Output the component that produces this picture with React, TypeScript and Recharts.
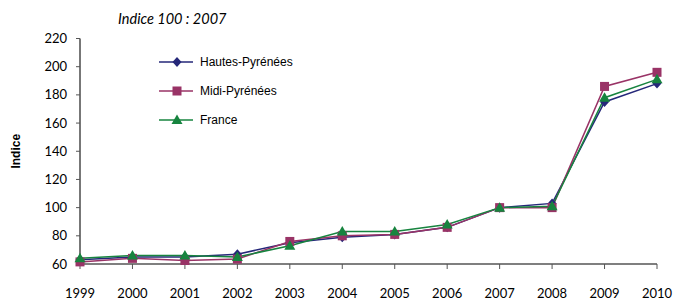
import { LineChart, Line, XAxis, YAxis } from 'recharts'

const years = [1999, 2000, 2001, 2002, 2003, 2004, 2005, 2006, 2007, 2008, 2009, 2010]
const hautesPyrenees = [63, 65, 65, 67, 75, 79, 81, 86, 100, 103, 175, 188]
const midiPyrenees = [61.5, 64, 62.5, 63.5, 76, 80, 81, 86, 100, 100, 186, 196]
const france = [64, 66, 66, 65, 73, 83, 83, 88, 100, 101, 178, 191]
const yTicks = [60, 80, 100, 120, 140, 160, 180, 200, 220]

const data = years.map((year, i) => ({
  year,
  hautes: hautesPyrenees[i],
  midi: midiPyrenees[i],
  france: france[i],
}))

const NAVY = '#252779'
const PLUM = '#993366'
const GREEN = '#17843f'

type Shape = 'diamond' | 'square' | 'triangle'

function marker(shape: Shape, cx: number, cy: number, color: string, key?: string) {
  if (shape === 'diamond') {
    return <path key={key} d={`M${cx},${cy - 5}L${cx + 4.5},${cy}L${cx},${cy + 5}L${cx - 4.5},${cy}Z`} fill={color} />
  }
  if (shape === 'square') {
    return <rect key={key} x={cx - 4.5} y={cy - 4.5} width={9} height={9} fill={color} />
  }
  return <path key={key} d={`M${cx},${cy - 5.5}L${cx + 5.5},${cy + 4}L${cx - 5.5},${cy + 4}Z`} fill={color} />
}

const series = [
  { key: 'hautes', name: 'Hautes-Pyrénées', color: NAVY, shape: 'diamond' as Shape },
  { key: 'midi', name: 'Midi-Pyrénées', color: PLUM, shape: 'square' as Shape },
  { key: 'france', name: 'France', color: GREEN, shape: 'triangle' as Shape },
]

// legend drawn as an overlay so it doesn't eat into the plot area
function LegendBox() {
  return (
    <div
      style={{
        position: 'absolute',
        left: 159,
        top: 47,
        fontFamily: 'Liberation Sans, Arial, sans-serif',
        fontSize: 12,
        color: '#000',
      }}
    >
      {series.map((s) => (
        <div key={s.key} style={{ display: 'flex', alignItems: 'center', height: 29 }}>
          <svg width={36} height={12}>
            <line x1={0} y1={6} x2={34} y2={6} stroke={s.color} strokeWidth={1.5} />
            {marker(s.shape, 18, 6, s.color)}
          </svg>
          <span style={{ marginLeft: 5 }}>{s.name}</span>
        </div>
      ))}
    </div>
  )
}

export default function App() {
  return (
    <div style={{ position: 'absolute', left: 0, top: 0, width: 676, height: 300, background: '#fff' }}>
      <LineChart width={676} height={300} data={data} margin={{ top: 38.5, right: 19, bottom: 0, left: 0 }}>
        <XAxis
          dataKey="year"
          type="number"
          domain={[1999, 2010]}
          ticks={years}
          interval={0}
          height={36}
          tickSize={5}
          tickMargin={20}
          axisLine={{ stroke: '#555', strokeWidth: 1.5 }}
          tickLine={{ stroke: '#555' }}
          tick={{ fill: '#000', fontFamily: 'Lato, sans-serif', fontSize: 13 }}
        />
        <YAxis
          domain={[60, 220]}
          ticks={yTicks}
          interval={0}
          width={80}
          tickSize={4}
          tickMargin={9}
          axisLine={{ stroke: '#777', strokeWidth: 2 }}
          tickLine={{ stroke: '#555' }}
          tick={{ fill: '#000', fontFamily: 'Lato, sans-serif', fontSize: 13 }}
          label={{
            value: 'Indice',
            angle: -90,
            position: 'insideLeft',
            offset: 16,
            style: { fontFamily: 'Liberation Sans, Arial, sans-serif', fontWeight: 'bold', fontSize: 12, fill: '#000', textAnchor: 'middle' },
          }}
        />
        {series.map((s) => (
          <Line
            key={s.key}
            dataKey={s.key}
            name={s.name}
            stroke={s.color}
            strokeWidth={1.5}
            type="linear"
            isAnimationActive={false}
            dot={(props: any) => marker(s.shape, props.cx, props.cy, s.color, `${s.key}-${props.index}`)}
          />
        ))}
      </LineChart>
      <div
        style={{
          position: 'absolute',
          left: 118,
          top: 10,
          fontFamily: 'Lato, sans-serif',
          fontStyle: 'italic',
          fontSize: 14.5,
        }}
      >
        Indice 100 : 2007
      </div>
      <LegendBox />
    </div>
  )
}
